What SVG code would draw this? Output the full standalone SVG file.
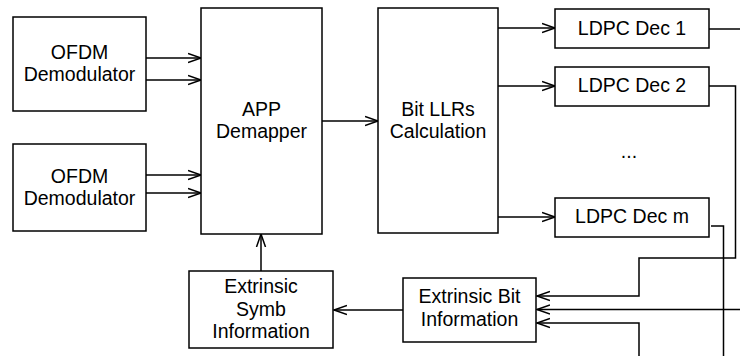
<svg xmlns="http://www.w3.org/2000/svg" width="740" height="356" viewBox="0 0 740 356">
<style>
.box{fill:#fff;stroke:#000;stroke-width:1.5}
.t{font-family:"Liberation Sans",Arial,sans-serif;font-size:19.5px;fill:#000;text-anchor:middle}
.c{fill:none;stroke:#000;stroke-width:1.5}
.a{marker-end:url(#arr)}
</style>
<defs>
<marker id="arr" markerUnits="userSpaceOnUse" markerWidth="16" markerHeight="14" refX="13" refY="6" orient="auto">
<path d="M0,1.5 L13,6 L0,10.5" fill="none" stroke="#000" stroke-width="1.5"/>
</marker>
</defs>
<rect width="740" height="356" fill="#fff"/>
<g id="connectors">
<path class="c a" d="M146,58 H201"/>
<path class="c a" d="M146,80 H201"/>
<path class="c a" d="M146,175 H201"/>
<path class="c a" d="M146,193 H201"/>
<path class="c a" d="M322,121 H378"/>
<path class="c a" d="M498,28 H555"/>
<path class="c a" d="M498,86 H555"/>
<path class="c a" d="M498,217 H555"/>
<path class="c" d="M709,29 H740"/>
<path class="c a" d="M709,86 H735.5 V258 H639 V296 H537"/>
<path class="c" d="M711,226 H723.5 V356"/>
<path class="c a" d="M740,309.5 H537"/>
<path class="c a" d="M639,356 V323 H537"/>
<path class="c a" d="M403,310 H334"/>
<path class="c a" d="M261,271 V234"/>
</g>
<g id="ofdm1"><rect class="box" x="13" y="17" width="133" height="94"/><text class="t" x="79.5" y="59">OFDM</text><text class="t" x="79.5" y="81">Demodulator</text></g>
<g id="ofdm2"><rect class="box" x="13" y="144" width="133" height="87"/><text class="t" x="79.5" y="183">OFDM</text><text class="t" x="79.5" y="205">Demodulator</text></g>
<g id="app"><rect class="box" x="201" y="8" width="121" height="226"/><text class="t" x="261.5" y="116">APP</text><text class="t" x="261.5" y="138">Demapper</text></g>
<g id="bitllr"><rect class="box" x="378" y="8" width="120" height="225"/><text class="t" x="438" y="116">Bit LLRs</text><text class="t" x="438" y="138">Calculation</text></g>
<g id="dec1"><rect class="box" x="555" y="9" width="154" height="39"/><text class="t" x="632" y="35">LDPC Dec 1</text></g>
<g id="dec2"><rect class="box" x="555" y="67" width="154" height="39"/><text class="t" x="632" y="92">LDPC Dec 2</text></g>
<g id="dots"><text class="t" x="629" y="158">...</text></g>
<g id="decm"><rect class="box" x="555" y="198" width="154" height="39"/><text class="t" x="632" y="223">LDPC Dec m</text></g>
<g id="extbit"><rect class="box" x="403" y="278" width="133" height="64"/><text class="t" x="469.5" y="303">Extrinsic Bit</text><text class="t" x="469.5" y="326">Information</text></g>
<g id="extsymb"><rect class="box" x="189" y="271" width="144" height="77"/><text class="t" x="261" y="293">Extrinsic</text><text class="t" x="261" y="316">Symb</text><text class="t" x="261" y="338">Information</text></g>
</svg>
